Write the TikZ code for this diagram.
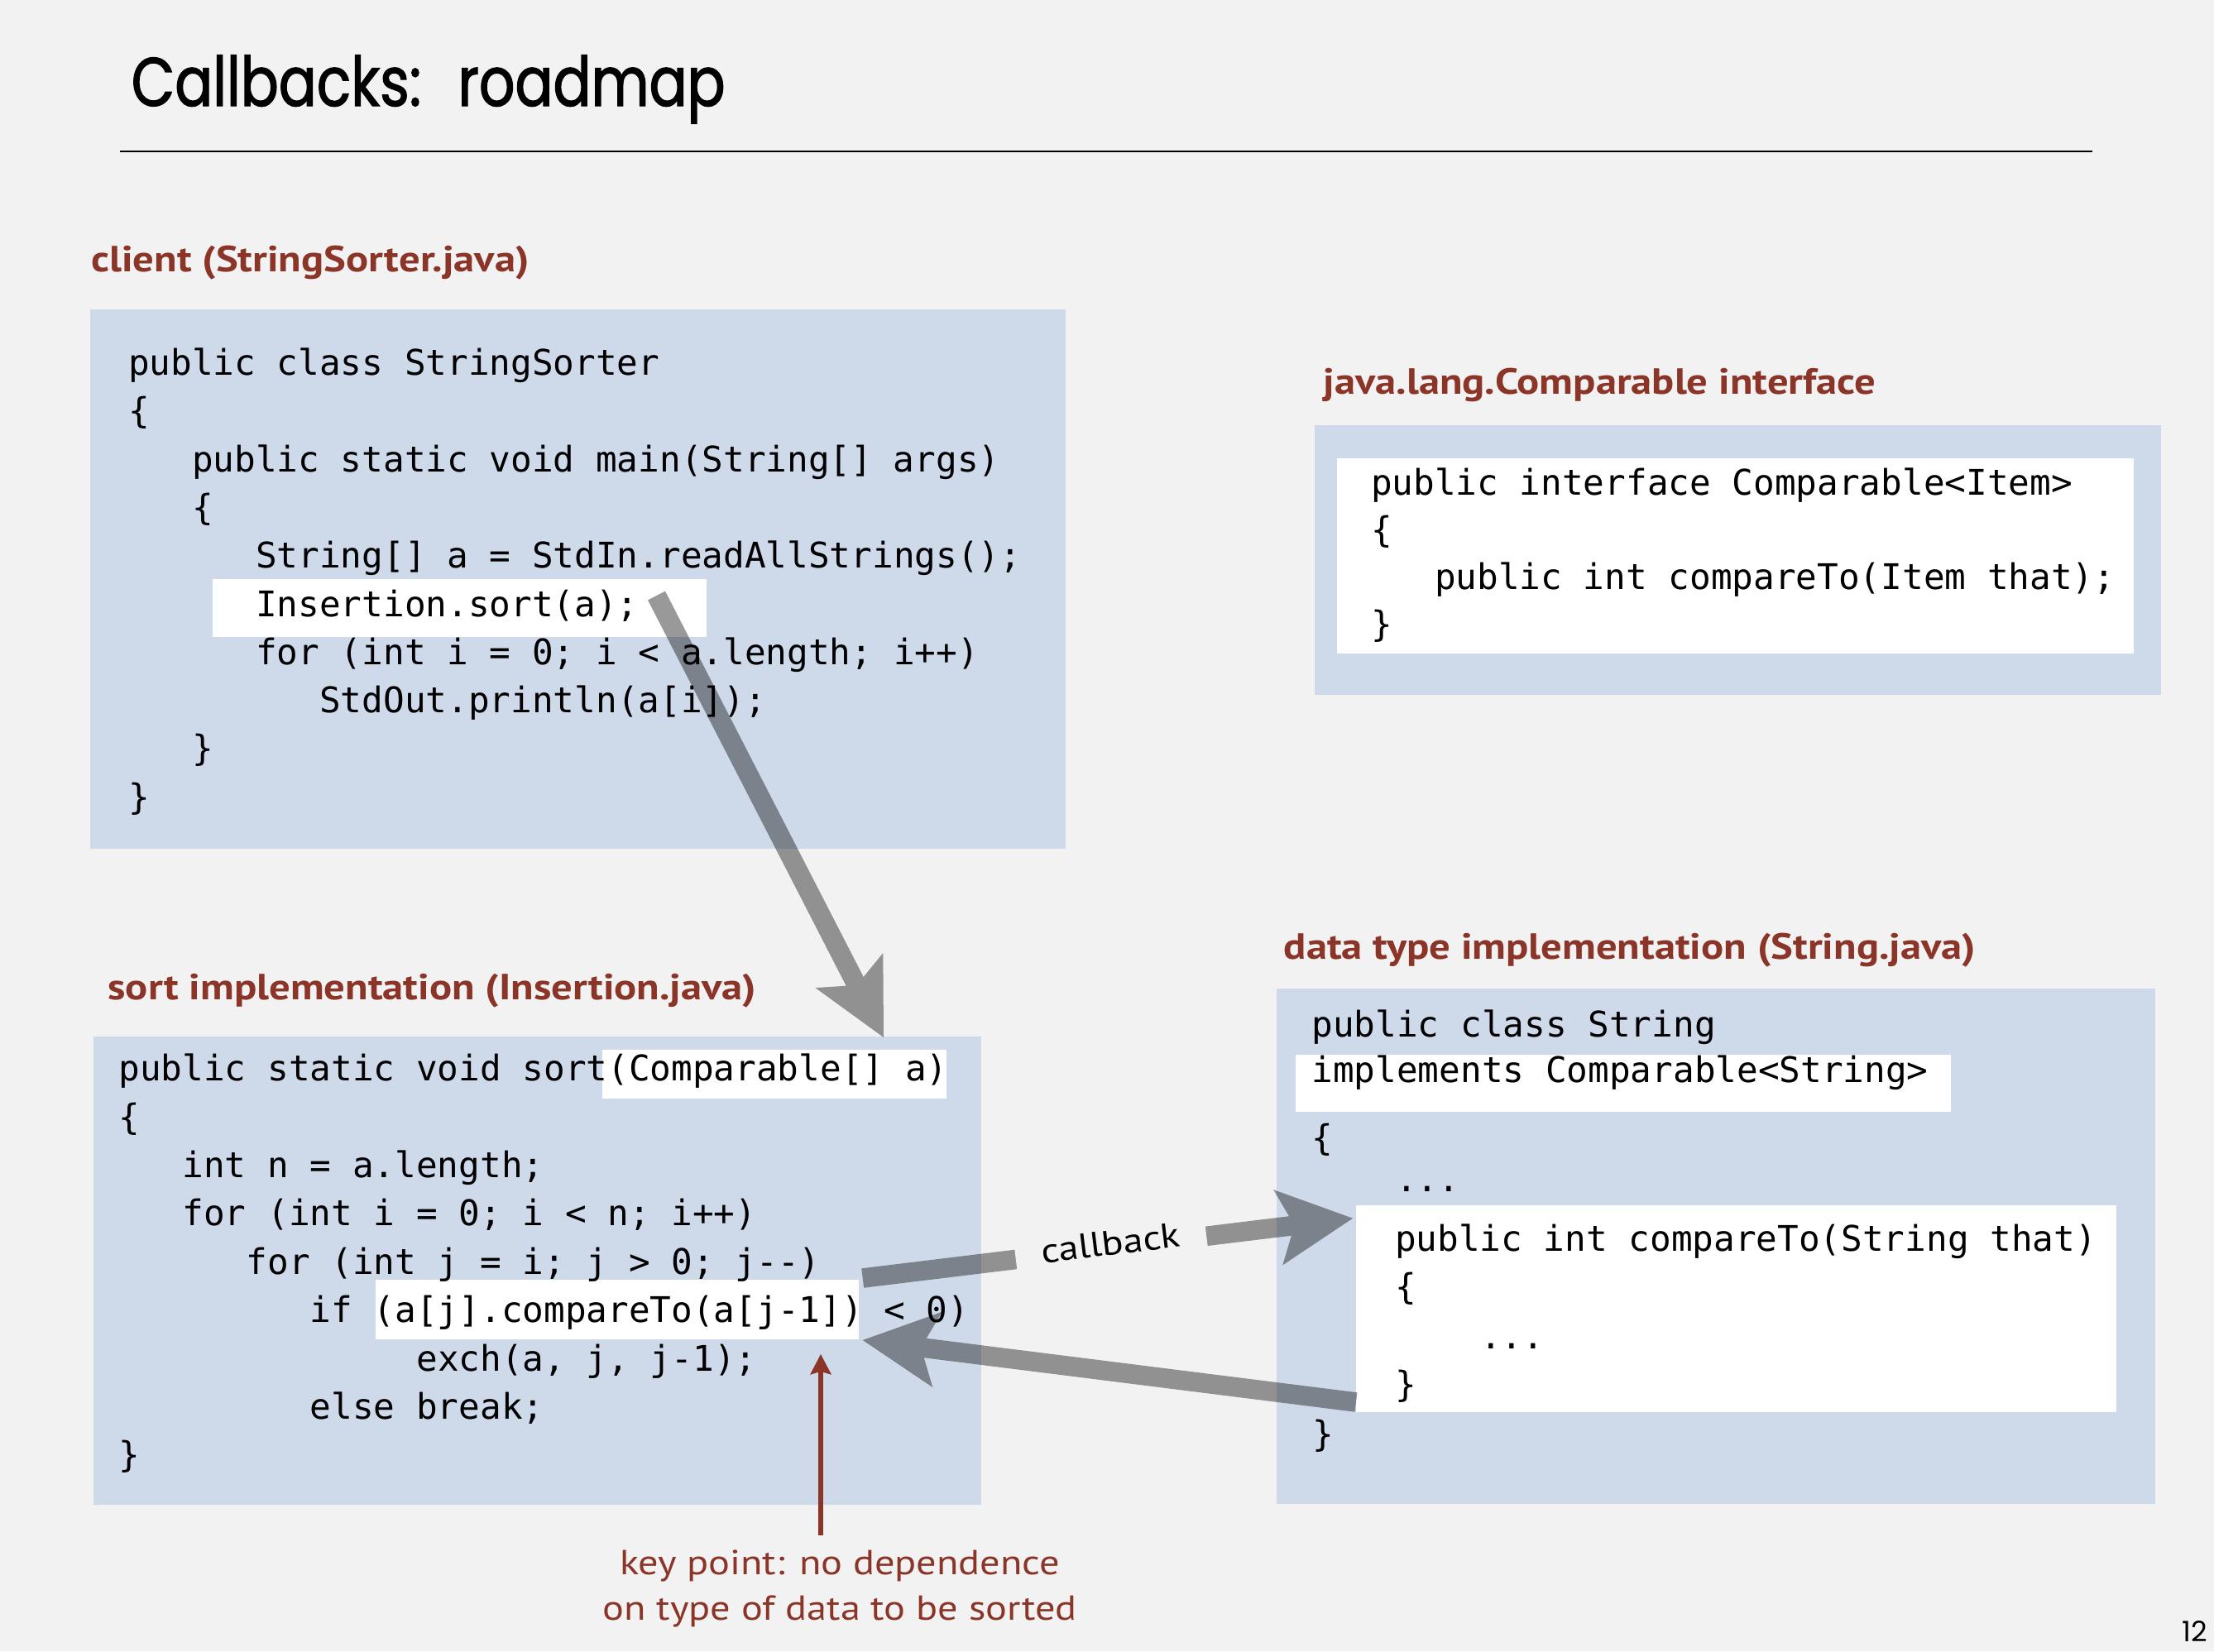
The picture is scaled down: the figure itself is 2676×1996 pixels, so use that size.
\documentclass[tikz,border=0pt]{standalone}
\usepackage{fontspec}
\usetikzlibrary{arrows.meta,fit}
\newfontfamily\codefont{DejaVu Sans Mono}[Ligatures=TeXOff]
\newfontfamily\titlefont{Poppins}[FakeStretch=0.82,FakeBold=1.5]
\newfontfamily\pagefont{Poppins}
\newfontfamily\labfont{PT Sans}[FakeStretch=1.15]
\definecolor{bg}{RGB}{242,242,242}
\definecolor{boxblue}{RGB}{206,217,234}
\definecolor{darkred}{RGB}{139,52,40}
\tikzset{
  codeline/.style={anchor=base west, inner sep=0pt, outer sep=0pt, font=\codefont\fontsize{10.67}{12}\selectfont},
  panel/.style={fill=boxblue, draw=none, inner sep=0pt, outer sep=0pt},
  hl/.style={fill=white, draw=none, inner sep=0pt, outer sep=0pt},
  seclabel/.style={anchor=base west, inner sep=0pt, text=darkred, font=\labfont\bfseries\fontsize{11}{13}\selectfont},
  keytext/.style={anchor=base, inner sep=0pt, text=darkred, font=\labfont\fontsize{10.5}{12}\selectfont},
  bigarrow/.style={draw=black, line width=5.9pt, -{Stealth[length=22.75pt,width=23pt,inset=5pt,line width=0pt]}},
  redarrow/.style={draw=darkred, line width=1.4pt, -{Stealth[length=6.2pt,width=6.5pt,inset=1pt,line width=0pt]}},
}
\begin{document}
\begin{tikzpicture}[x=0.25pt,y=-0.25pt]
\fill[bg] (0,0) rectangle (2676,1996);
\useasboundingbox (0,0) rectangle (2676,1996);

% title
\node[anchor=base west, inner sep=0pt, font=\titlefont\fontsize{20.75}{24}\selectfont] (title) at (158,128) {Callbacks:\ \ \hspace{2pt}roadmap};
\coordinate (ruleL) at (145,183);
\coordinate (ruleR) at (2529,183);
\draw[line width=0.65pt] (ruleL) -- (ruleR);

% section labels
\node[seclabel] (lab-client) at (109.6,328) {client (StringSorter.java)};
\node[seclabel] (lab-iface) at (1599,476) {java.lang.Comparable interface};
\node[seclabel] (lab-sort) at (129.7,1208) {sort implementation (Insertion.java)};
\node[seclabel] (lab-dt) at (1551,1159) {data type implementation (String.java)};

% panels
\node[panel, fit={(109,374) (1288,1026)}] (client) {};
\node[hl, fit={(257,700) (854,770)}] (hl-sort) {};
\node[panel, fit={(1589,514) (2612,840)}] (iface) {};
\node[hl, fit={(1616,554) (2579,790)}] (iface-in) {};
\node[panel, fit={(113,1253) (1186,1819)}] (sortbox) {};
\node[hl, fit={(728,1269) (1144,1328)}] (hl-param) {};
\node[hl, fit={(454,1547) (1038,1619)}] (hl-cmp) {};
\node[panel, fit={(1543,1195) (2605,1818)}] (dtbox) {};
\node[hl, fit={(1566,1275) (2358,1344)}] (hl-impl) {};
\node[hl, fit={(1639,1457) (2558,1707)}] (dt-in) {};

% client code
\node[codeline] (c1) at (155,453.5) {public class StringSorter};
\node[codeline] (c2) at (155,511.8) {\{};
\node[codeline] (c3) at (232.1,570.1) {public static void main(String[] args)};
\node[codeline] (c4) at (232.1,628.4) {\{};
\node[codeline] (c5) at (309.2,686.7) {String[] a = StdIn.readAllStrings();};
\node[codeline] (c6) at (309.2,745) {Insertion.sort(a);};
\node[codeline] (c7) at (309.2,803.3) {for (int i = 0; i < a.length; i++)};
\node[codeline] (c8) at (386.3,861.6) {StdOut.println(a[i]);};
\node[codeline] (c9) at (232.1,919.9) {\}};
\node[codeline] (c10) at (155,978.2) {\}};

% interface code
\node[codeline] (i1) at (1657,598) {public interface Comparable<Item>};
\node[codeline] (i2) at (1657,655) {\{};
\node[codeline] (i3) at (1734.1,712) {public int compareTo(Item that);};
\node[codeline] (i4) at (1657,769) {\}};

% sort code
\node[codeline] (s1) at (143.5,1306.6) {public static void sort(Comparable[] a)};
\node[codeline] (s2) at (143.5,1365) {\{};
\node[codeline] (s3) at (220.6,1423.4) {int n = a.length;};
\node[codeline] (s4) at (220.6,1481.8) {for (int i = 0; i < n; i++)};
\node[codeline] (s5) at (297.7,1540.2) {for (int j = i; j > 0; j--)};
\node[codeline] (s6) at (374.8,1598.6) {if (a[j].compareTo(a[j-1]) < 0)};
\node[codeline] (s7) at (503.3,1657) {exch(a, j, j-1);};
\node[codeline] (s8) at (374.8,1715.4) {else break;};
\node[codeline] (s9) at (143.5,1773.8) {\}};

% data type code
\node[codeline] (d1) at (1585.5,1253) {public class String};
\node[codeline] (d2) at (1585.5,1308) {implements Comparable<String>};
\node[codeline] (d3) at (1585.5,1390) {\{};
\node[codeline] (d4) at (1687,1440) {...};
\node[codeline] (d5) at (1686,1512) {public int compareTo(String that)};
\node[codeline] (d6) at (1686,1570) {\{};
\node[codeline] (d7) at (1789,1630) {...};
\node[codeline] (d8) at (1686,1688) {\}};
\node[codeline] (d9) at (1586,1748) {\}};

% big arrows
\coordinate (a1s) at (793.5,720);
\coordinate (a1e) at (1068,1254);
\coordinate (a2s) at (1042.7,1545);
\coordinate (a2e) at (1635,1472.7);
\coordinate (a3s) at (1639,1695);
\coordinate (a3e) at (1042.7,1620);
\begin{scope}[transparency group, opacity=0.4]
\draw[bigarrow] (a1s) -- (a1e);
\draw[bigarrow] (a2s) -- (a2e);
\draw[bigarrow] (a3s) -- (a3e);
\end{scope}
\path (a2s) -- (a2e) node[pos=0.507, sloped, anchor=mid, fill=bg, inner xsep=7.9pt, inner ysep=4pt, font=\labfont\fontsize{10.5}{12}\selectfont] (cb) {callback};

% key point
\coordinate (rs) at (992,1856);
\coordinate (rt) at (992,1637);
\draw[redarrow] (rs) -- (rt);
\node[keytext] (kp1) at (1015,1903) {key point: no dependence};
\node[keytext] (kp2) at (1015,1958) {on type of data to be sorted};

% page number
\node[anchor=base east, inner sep=0pt, font=\pagefont\fontsize{8.5}{10}\selectfont] (pnum) at (2669,1984) {12};
\end{tikzpicture}
\end{document}
